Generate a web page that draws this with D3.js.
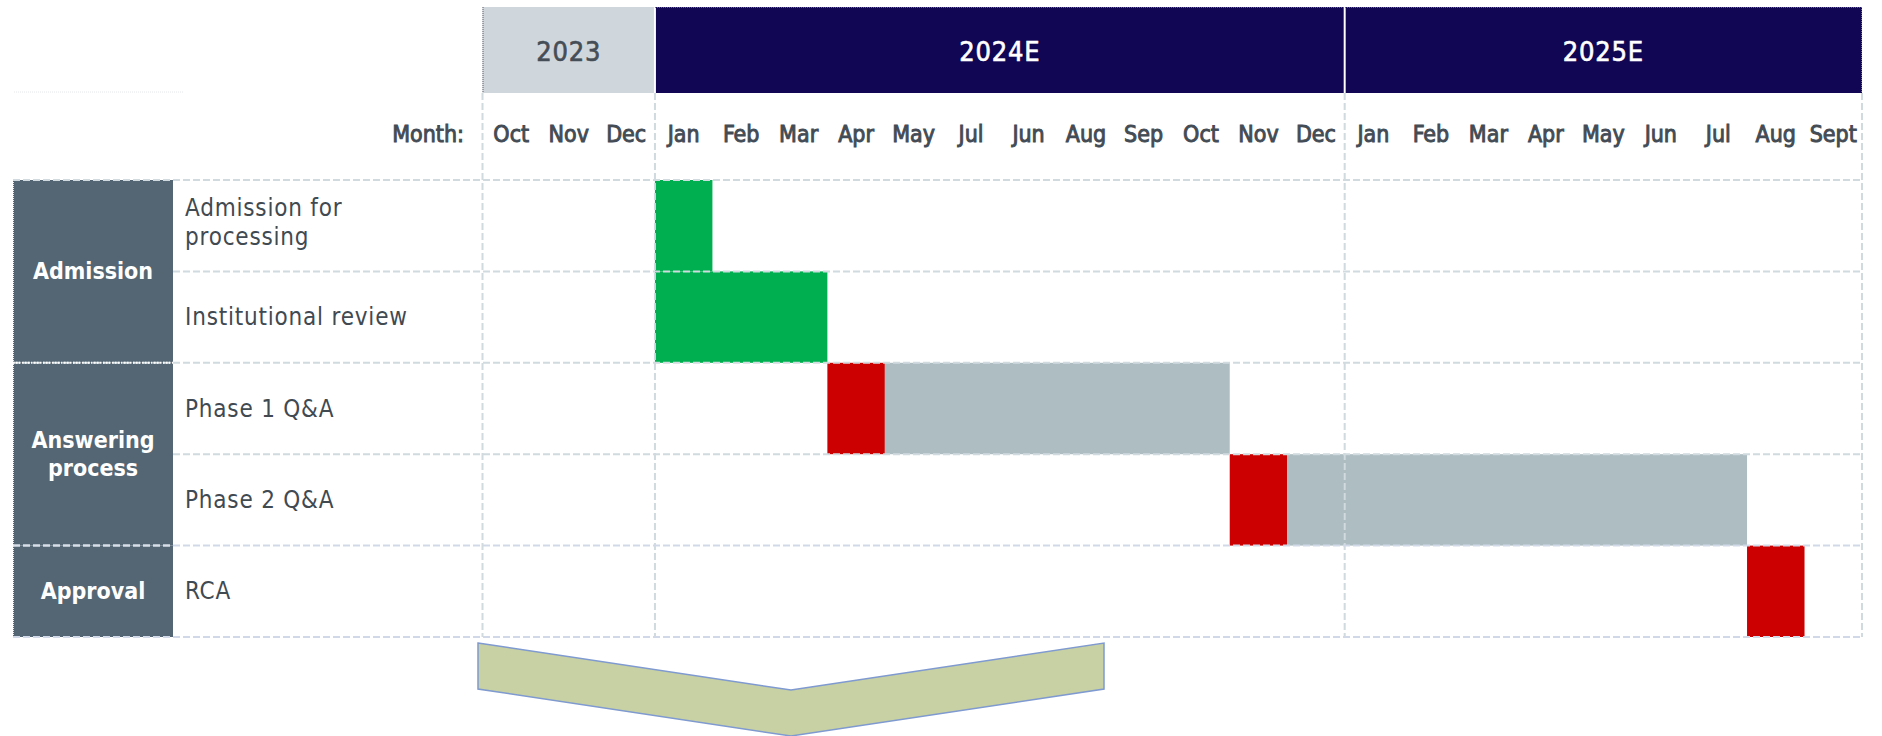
<!DOCTYPE html>
<html>
<head>
<meta charset="utf-8">
<script src="https://cdn.jsdelivr.net/npm/d3@7"></script>
<style>
  html, body { margin: 0; padding: 0; background: #ffffff; }
  svg { display: block; }
  text { font-family: "DejaVu Sans Condensed", "DejaVu Sans", sans-serif; font-stretch: condensed; }
</style>
</head>
<body>
<svg id="chart" width="1882" height="736"></svg>
<script>
// ---- data ----
const years = ["2023", "2024E", "2025E"];
const yearMonths = [3, 12, 9];
const months = ["Oct", "Nov", "Dec",
  "Jan", "Feb", "Mar", "Apr", "May", "Jul", "Jun", "Aug", "Sep", "Oct", "Nov", "Dec",
  "Jan", "Feb", "Mar", "Apr", "May", "Jun", "Jul", "Aug", "Sept"];
const categories = ["Admission", "Answering process", "Approval"];
const categoryTaskCounts = [2, 2, 1];
const tasks = ["Admission for processing", "Institutional review", "Phase 1 Q&A", "Phase 2 Q&A", "RCA"];
// bars: task, start month index, end month index, kind
const barTasks  = ["Admission for processing", "Institutional review", "Phase 1 Q&A", "Phase 1 Q&A", "Phase 2 Q&A", "Phase 2 Q&A", "RCA"];
const barStarts = [3, 3, 6, 7, 13, 14, 22];
const barEnds   = [4, 6, 7, 13, 14, 22, 23];
const barKinds  = ["done", "done", "milestone", "wait", "milestone", "wait", "milestone"];

// ---- styles ----
const kindColor = { done: "#00b050", milestone: "#cc0000", wait: "#adbdc1" };
const yearFill = ["#cfd6dc", "#110654", "#110654"];
const yearText = ["#454d56", "#ffffff", "#ffffff"];
const gridColor = "#d0dadf";

const svg = d3.select("#chart");
const x = d3.scaleLinear().domain([0, months.length]).range([482.5, 1862]);
const y = d3.scaleBand().domain(tasks).range([180, 637]);
const labelX0 = 13, labelX1 = 173;
const headerTop = 7, headerBottom = 93;

// year boundaries
const yearStart = [];
let acc = 0;
yearMonths.forEach(n => { yearStart.push(acc); acc += n; });

// ---- faint top-left dotted line ----
svg.append("line").attr("x1", 14).attr("x2", 183).attr("y1", 92).attr("y2", 92)
  .attr("stroke", "#e3e6ea").attr("stroke-width", 1).attr("stroke-dasharray", "1,1");

// ---- header ----
const hdr = svg.append("g");
years.forEach((yr, i) => {
  const xa = x(yearStart[i]), xb = x(yearStart[i] + yearMonths[i]);
  hdr.append("rect").attr("x", xa).attr("y", headerTop).attr("width", xb - xa).attr("height", headerBottom - headerTop)
    .attr("fill", yearFill[i]);
  hdr.append("text").attr("x", (xa + xb) / 2).attr("y", (headerTop + headerBottom) / 2 + 1)
    .attr("text-anchor", "middle").attr("dominant-baseline", "central")
    .attr("font-size", 27).attr("fill", yearText[i])
    .attr("stroke", yearText[i]).attr("stroke-width", 0.6).attr("letter-spacing", 0.8).text(yr);
});
// white separators between year boxes
[1, 2].forEach(i => {
  hdr.append("line").attr("x1", x(yearStart[i])).attr("x2", x(yearStart[i]))
    .attr("y1", headerTop).attr("y2", headerBottom).attr("stroke", "#ffffff").attr("stroke-width", 2);
});
// dotted borders on header
hdr.append("line").attr("x1", x(3)).attr("x2", x(24)).attr("y1", headerTop + 0.5).attr("y2", headerTop + 0.5)
  .attr("stroke", "#6a6f78").attr("stroke-width", 1).attr("stroke-dasharray", "1,1");
hdr.append("line").attr("x1", x(24) - 0.5).attr("x2", x(24) - 0.5).attr("y1", headerTop).attr("y2", headerBottom)
  .attr("stroke", "#6a6f78").attr("stroke-width", 1).attr("stroke-dasharray", "1,1");
hdr.append("line").attr("x1", x(0) + 0.5).attr("x2", x(0) + 0.5).attr("y1", headerTop).attr("y2", headerBottom)
  .attr("stroke", "#5a6068").attr("stroke-width", 1).attr("stroke-dasharray", "1,1");

// ---- month labels ----
svg.append("text").attr("x", 464).attr("y", 134).attr("text-anchor", "end").attr("dominant-baseline", "central")
  .attr("font-size", 23).attr("fill", "#434b54").attr("stroke", "#434b54").attr("stroke-width", 0.9).text("Month:");
svg.append("g").selectAll("text").data(months).join("text")
  .attr("x", (d, i) => x(i + 0.5)).attr("y", 134)
  .attr("text-anchor", "middle").attr("dominant-baseline", "central")
  .attr("font-size", 23).attr("fill", "#434b54").attr("stroke", "#434b54").attr("stroke-width", 0.9).text(d => d);

// ---- bars ----
svg.append("g").selectAll("rect").data(barTasks).join("rect")
  .attr("x", (d, i) => x(barStarts[i]))
  .attr("y", d => y(d))
  .attr("width", (d, i) => x(barEnds[i]) - x(barStarts[i]))
  .attr("height", y.bandwidth())
  .attr("fill", (d, i) => kindColor[barKinds[i]]);

// ---- category label boxes ----
const cat = svg.append("g");
let ti = 0;
const catBounds = [];
categories.forEach((c, i) => {
  const t0 = tasks[ti], t1 = tasks[ti + categoryTaskCounts[i] - 1];
  const ya = y(t0), yb = y(t1) + y.bandwidth();
  catBounds.push([ya, yb]);
  ti += categoryTaskCounts[i];
  cat.append("rect").attr("x", labelX0).attr("y", ya).attr("width", labelX1 - labelX0).attr("height", yb - ya)
    .attr("fill", "#546673");
  const words = c.split(" ");
  const lh = 28;
  const t = cat.append("text").attr("text-anchor", "middle")
    .attr("font-size", 23).attr("font-weight", 700).attr("fill", "#ffffff");
  words.forEach((w, k) => {
    t.append("tspan").attr("x", (labelX0 + labelX1) / 2)
      .attr("y", (ya + yb) / 2 + (k - (words.length - 1) / 2) * lh + 8).text(w);
  });
});
// dotted left edge of label column
cat.append("line").attr("x1", labelX0 + 0.5).attr("x2", labelX0 + 0.5).attr("y1", 180).attr("y2", 637)
  .attr("stroke", "#e8ecef").attr("stroke-width", 1).attr("stroke-dasharray", "1,1");

// ---- task labels ----
const taskLines = {
  "Admission for processing": ["Admission for", "processing"]
};
const tl = svg.append("g");
tasks.forEach(t => {
  const lines = taskLines[t] || [t];
  const cy = y(t) + y.bandwidth() / 2 - (lines.length > 1 ? 3 : 0);
  const txt = tl.append("text").attr("font-size", 24).attr("letter-spacing", 0.8).attr("fill", "#414951");
  lines.forEach((ln, k) => {
    txt.append("tspan").attr("x", 185).attr("y", cy + (k - (lines.length - 1) / 2) * 29 + 8).text(ln);
  });
});

// ---- grid ----
const grid = svg.append("g").attr("fill", "none");
// vertical lines at year boundaries
const vIdx = yearStart.concat([months.length]);
vIdx.forEach(v => {
  grid.append("line").attr("x1", x(v)).attr("x2", x(v)).attr("y1", headerBottom).attr("y2", 637)
    .attr("stroke", gridColor).attr("stroke-width", 2).attr("stroke-dasharray", "7,3");
});
// horizontal lines
const catEdges = new Set(catBounds.map(b => b[0]).concat(catBounds.map(b => b[1])));
const hYs = tasks.map(t => y(t)).concat([y(tasks[tasks.length - 1]) + y.bandwidth()]);
hYs.forEach((yy, i) => {
  const isCat = catEdges.has(yy);
  const col = i >= 4 ? "#d1d9e8" : gridColor;
  grid.append("line").attr("x1", isCat ? labelX0 : labelX1).attr("x2", x(months.length)).attr("y1", yy).attr("y2", yy)
    .attr("stroke", col).attr("stroke-width", 2).attr("stroke-dasharray", "7,3");
});
// dotted white separator inside label column (between first two categories)
grid.append("line").attr("x1", labelX0).attr("x2", labelX1).attr("y1", catBounds[0][1]).attr("y2", catBounds[0][1])
  .attr("stroke", "#ffffff").attr("stroke-width", 2).attr("stroke-dasharray", "1.5,1.5");
grid.append("line").attr("x1", labelX0).attr("x2", labelX1).attr("y1", catBounds[1][1]).attr("y2", catBounds[1][1])
  .attr("stroke", "#d8dfea").attr("stroke-width", 2).attr("stroke-dasharray", "7,3");

// ---- chevron ----
const cx0 = 478, cx1 = 1104, cTop = 643, cDepth = 47, cThick = 46;
const cMid = (cx0 + cx1) / 2;
const chev = [[cx0, cTop], [cMid, cTop + cDepth], [cx1, cTop], [cx1, cTop + cThick],
              [cMid, cTop + cDepth + cThick], [cx0, cTop + cThick]];
svg.append("path").attr("d", d3.line()(chev) + "Z")
  .attr("fill", "#c8d1a3").attr("stroke", "#7f9ad0").attr("stroke-width", 1.5);
</script>
</body>
</html>
